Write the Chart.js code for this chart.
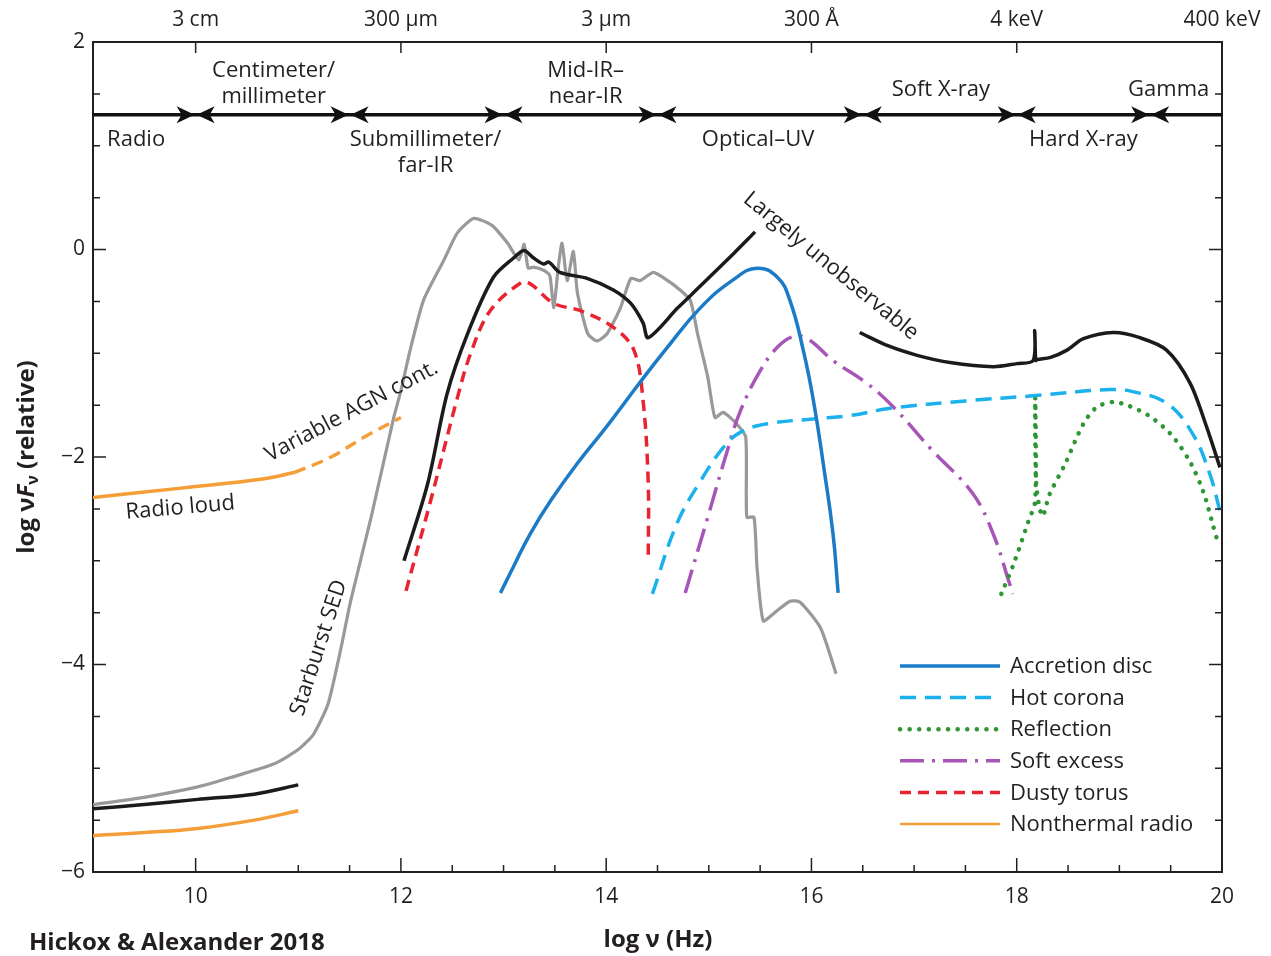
<!DOCTYPE html>
<html lang="en">
<head>
<meta charset="UTF-8">
<title>AGN SED components</title>
<script src="https://cdn.jsdelivr.net/npm/chart.js"></script>
<style>
  body { margin: 0; background: #fff; }
  #wrap { width: 1271px; height: 956px; }
</style>
</head>
<body>
<div id="wrap"><canvas id="sed" width="1271" height="956"></canvas></div>
<script>
// axis ticks
const xTicks = [10, 12, 14, 16, 18, 20];
const yTicks = [-6, -4, -2, 0, 2];
const topTickLabels = ['3 cm', '300 µm', '3 µm', '300 Å', '4 keV', '400 keV'];

// wavelength bands along the arrow line
const bandEdges = [9, 10, 11.5, 13, 14.5, 16.5, 18, 19.3, 20];
const bandNames = [['Radio'], ['Centimeter/', 'millimeter'], ['Submillimeter/', 'far-IR'], ['Mid-IR–', 'near-IR'],
                   ['Optical–UV'], ['Soft X-ray'], ['Hard X-ray'], ['Gamma']];

// starburst SED (grey)
const starburstX = [9.0, 9.5, 10.02, 10.34, 10.76, 11.0, 11.15, 11.29, 11.41, 11.51, 11.71, 11.93, 12.0, 12.09, 12.22, 12.42,
  12.55, 12.71, 12.89, 13.04, 13.15, 13.2, 13.24, 13.29, 13.39, 13.45, 13.49, 13.53, 13.57, 13.62, 13.68, 13.72, 13.82,
  13.91, 14.01, 14.14, 14.24, 14.33, 14.46, 14.6, 14.72, 14.82, 14.89, 14.99, 15.06, 15.14, 15.27, 15.36, 15.37, 15.44,
  15.47, 15.53, 15.63, 15.79, 15.89, 16.09, 16.24];
const starburstY = [-5.35, -5.28, -5.18, -5.09, -4.96, -4.82, -4.67, -4.38, -3.87, -3.39, -2.58, -1.62, -1.36, -0.97, -0.49, -0.10,
  0.16, 0.30, 0.23, 0.06, -0.10, 0.05, -0.18, -0.17, -0.20, -0.25, -0.56, -0.20, 0.06, -0.30, -0.02, -0.42, -0.81,
  -0.88, -0.81, -0.56, -0.28, -0.30, -0.22, -0.30, -0.39, -0.49, -0.81, -1.23, -1.62, -1.57, -1.68, -1.81, -2.58, -2.58,
  -3.07, -3.58, -3.51, -3.39, -3.40, -3.65, -4.09];

// total AGN SED (black), three pieces
const totalRadioX = [9.0, 9.5, 10.02, 10.57, 11.0];
const totalRadioY = [-5.39, -5.35, -5.30, -5.25, -5.16];
const totalIrX = [12.03, 12.26, 12.45, 12.65, 12.9, 13.1, 13.2, 13.29, 13.39, 13.44, 13.55, 13.82, 14.07, 14.24, 14.36, 14.41,
  14.7, 14.92, 15.24, 15.45];
const totalIrY = [-3.0, -2.26, -1.39, -0.81, -0.27, -0.08, -0.01, -0.08, -0.14, -0.12, -0.22, -0.28, -0.39, -0.52, -0.71, -0.85,
  -0.56, -0.35, -0.04, 0.17];
const totalXrayX = [16.47, 16.75, 17.03, 17.35, 17.77, 18.0, 18.16, 18.175, 18.185, 18.2, 18.33, 18.49, 18.65, 18.94, 19.2,
  19.46, 19.69, 19.85, 19.98];
const totalXrayY = [-0.80, -0.93, -1.02, -1.09, -1.13, -1.10, -1.07, -0.78, -1.07, -1.06, -1.04, -0.97, -0.86, -0.80, -0.85,
  -0.97, -1.29, -1.71, -2.10];

// components
const discX = [12.97, 13.1, 13.26, 13.46, 13.72, 14.01, 14.33, 14.59, 14.92, 15.24, 15.47, 15.67, 15.79, 15.92, 16.02, 16.12, 16.21, 16.26];
const discY = [-3.31, -3.05, -2.74, -2.42, -2.06, -1.70, -1.28, -0.95, -0.56, -0.29, -0.18, -0.27, -0.49, -0.97, -1.46, -2.10, -2.74, -3.31];

const coronaX = [14.45, 14.69, 14.92, 15.14, 15.31, 15.57, 16.06, 16.38, 16.77, 17.5, 18.16, 18.91, 19.13, 19.46, 19.71, 19.88, 19.98];
const coronaY = [-3.32, -2.64, -2.23, -1.91, -1.76, -1.68, -1.63, -1.60, -1.53, -1.46, -1.41, -1.35, -1.37, -1.48, -1.77, -2.16, -2.52];

const reflX = [17.85, 17.97, 18.11, 18.18, 18.18, 18.19, 18.25, 18.32, 18.47, 18.65, 18.78, 18.94, 19.10, 19.30, 19.51, 19.69, 19.82, 19.91, 19.97];
const reflY = [-3.32, -3.03, -2.63, -2.42, -1.38, -2.26, -2.57, -2.36, -2.07, -1.68, -1.52, -1.47, -1.51, -1.61, -1.79, -2.05, -2.34, -2.65, -2.86];

const softX = [14.77, 14.99, 15.18, 15.31, 15.50, 15.67, 15.82, 15.96, 16.21, 16.54, 16.80, 17.18, 17.57, 17.77, 17.93, 17.96];
const softY = [-3.31, -2.58, -1.94, -1.55, -1.17, -0.94, -0.84, -0.86, -1.07, -1.29, -1.52, -1.94, -2.35, -2.74, -3.22, -3.32];

const torusX = [12.05, 12.29, 12.55, 12.68, 12.87, 13.17, 13.26, 13.49, 13.75, 14.07, 14.27, 14.36, 14.41, 14.41];
const torusY = [-3.29, -2.42, -1.43, -1.0, -0.59, -0.32, -0.33, -0.52, -0.59, -0.75, -0.97, -1.46, -2.26, -2.95];

const radioQuietX = [9.0, 9.5, 10.02, 10.57, 11.0];
const radioQuietY = [-5.65, -5.62, -5.58, -5.50, -5.41];
const radioLoudX = [9.0, 9.86, 10.67, 10.96];
const radioLoudY = [-2.39, -2.30, -2.21, -2.15];
const variableX = [10.96, 11.32, 11.64, 12.0];
const variableY = [-2.15, -2.0, -1.81, -1.62];

const legendOrder = ['Accretion disc', 'Hot corona', 'Reflection', 'Soft excess', 'Dusty torus', 'Nonthermal radio'];

function pts(xs, ys) {
  return xs.map((x, i) => ({ x: x, y: ys[i] }));
}
const gap = [{ x: null, y: null }];

const ink = '#231f20';
const font = "'Open Sans', 'Noto Sans', sans-serif";

// decorations: inward ticks, band arrows, labels, legend, titles
const overlay = {
  id: 'overlay',
  afterDraw(chart) {
    const { ctx, chartArea: a, scales: { x, y } } = chart;
    ctx.save();
    ctx.strokeStyle = ink;
    ctx.fillStyle = ink;

    // tick marks pointing into the plot
    ctx.lineWidth = 1.5;
    ctx.beginPath();
    for (let v = 9.5; v < 20; v += 0.5) {
      const px = x.getPixelForValue(v);
      const len = xTicks.includes(v) ? 14 : 7;
      ctx.moveTo(px, a.bottom);
      ctx.lineTo(px, a.bottom - len);
    }
    xTicks.forEach(v => {
      const px = x.getPixelForValue(v);
      ctx.moveTo(px, a.top);
      ctx.lineTo(px, a.top + 11);
    });
    for (let v = -5.5; v < 2; v += 0.5) {
      const py = y.getPixelForValue(v);
      const len = yTicks.includes(v) ? 13 : 7;
      ctx.moveTo(a.left, py);
      ctx.lineTo(a.left + len, py);
      ctx.moveTo(a.right, py);
      ctx.lineTo(a.right - len, py);
    }
    ctx.stroke();

    // band arrows
    const ay = y.getPixelForValue(1.3);
    ctx.lineWidth = 3.5;
    ctx.strokeStyle = '#111';
    ctx.fillStyle = '#111';
    ctx.beginPath();
    ctx.moveTo(a.left, ay);
    ctx.lineTo(a.right, ay);
    ctx.stroke();
    const head = (tipX, dir) => {
      ctx.beginPath();
      ctx.moveTo(tipX, ay);
      ctx.lineTo(tipX - dir * 18, ay - 8.5);
      ctx.lineTo(tipX - dir * 13, ay);
      ctx.lineTo(tipX - dir * 18, ay + 8.5);
      ctx.closePath();
      ctx.fill();
    };
    bandEdges.slice(1, -1).forEach(e => {
      const px = x.getPixelForValue(e);
      head(px - 1, 1);
      head(px + 1, -1);
    });

    // band names
    ctx.fillStyle = ink;
    ctx.font = '22px ' + font;
    ctx.textBaseline = 'middle';
    ctx.textAlign = 'center';
    const bandSpots = [
      [9.42, 'below'], [10.76, 'above'], [12.24, 'below'], [13.80, 'above'],
      [15.48, 'below'], [17.26, 'above'], [18.65, 'below'], [19.48, 'above']
    ];
    bandNames.forEach((lines, i) => {
      const [cx, side] = bandSpots[i];
      const px = x.getPixelForValue(cx);
      let py;
      if (side === 'below') py = ay + 25;
      else py = lines.length === 2 ? ay - 44 : ay - 25;
      lines.forEach((t, k) => ctx.fillText(t, px, py + k * 26));
    });

    // rotated curve notes
    const note = (t, vx, vy, deg) => {
      ctx.save();
      ctx.translate(x.getPixelForValue(vx), y.getPixelForValue(vy));
      ctx.rotate(deg * Math.PI / 180);
      ctx.fillText(t, 0, 0);
      ctx.restore();
    };
    ctx.font = '22px ' + font;
    note('Variable AGN cont.', 11.52, -1.56, -28);
    note('Radio loud', 9.85, -2.49, -5);
    note('Starburst SED', 11.2, -3.84, -72);
    note('Largely unobservable', 16.19, -0.16, 39.5);

    // legend
    ctx.textAlign = 'left';
    legendOrder.forEach((name, i) => {
      const ds = chart.data.datasets.find(d => d.label === name);
      const ly = 666 + i * 31.6;
      ctx.save();
      ctx.strokeStyle = ds.borderColor;
      ctx.lineWidth = name === 'Nonthermal radio' ? 2.5 : ds.borderWidth;
      ctx.setLineDash(ds.borderDash || []);
      ctx.lineCap = ds.borderCapStyle || 'butt';
      ctx.beginPath();
      ctx.moveTo(900, ly);
      ctx.lineTo(1000, ly);
      ctx.stroke();
      ctx.restore();
      ctx.fillText(name, 1010, ly + 1);
    });

    // x title and credit
    ctx.font = 'bold 24px ' + font;
    ctx.textAlign = 'center';
    ctx.fillText('log ν (Hz)', 658, 940);
    ctx.textAlign = 'left';
    ctx.font = 'bold 24px ' + font;
    ctx.fillText('Hickox & Alexander 2018', 29, 943);

    // y title with italic F and subscript nu
    ctx.save();
    ctx.translate(27, 457);
    ctx.rotate(-Math.PI / 2);
    const parts = [
      ['bold 24px ' + font, 'log ν', 0],
      ['italic bold 24px ' + font, 'F', 0],
      ['bold 16px ' + font, 'ν', 6],
      ['bold 24px ' + font, ' (relative)', 0]
    ];
    let total = 0;
    parts.forEach(p => { ctx.font = p[0]; total += ctx.measureText(p[1]).width; });
    let cx = -total / 2;
    parts.forEach(p => {
      ctx.font = p[0];
      ctx.fillText(p[1], cx, p[2]);
      cx += ctx.measureText(p[1]).width;
    });
    ctx.restore();

    ctx.restore();
  }
};

const axisFont = { family: font, size: 21 };

new Chart(document.getElementById('sed'), {
  type: 'line',
  data: {
    datasets: [
      { label: 'Total', data: [...pts(totalRadioX, totalRadioY), ...gap, ...pts(totalIrX, totalIrY), ...gap, ...pts(totalXrayX, totalXrayY)],
        borderColor: '#1b1b1b', borderWidth: 3.5, tension: 0.3 },
      { label: 'Accretion disc', data: pts(discX, discY), borderColor: '#1b7bc7', borderWidth: 3.5, tension: 0.45 },
      { label: 'Hot corona', data: pts(coronaX, coronaY), borderColor: '#1ab1ec', borderWidth: 3.5, borderDash: [16, 9], tension: 0.4 },
      { label: 'Reflection', data: pts(reflX, reflY), borderColor: '#2e9632', borderWidth: 4.5, borderDash: [0.1, 9.5],
        borderCapStyle: 'round', tension: 0.3 },
      { label: 'Soft excess', data: pts(softX, softY), borderColor: '#a855b8', borderWidth: 3.5, borderDash: [24, 8, 3, 8], tension: 0.4 },
      { label: 'Dusty torus', data: pts(torusX, torusY), borderColor: '#ea2330', borderWidth: 3.5, borderDash: [11, 7], tension: 0.35 },
      { label: 'Nonthermal radio', data: [...pts(radioQuietX, radioQuietY), ...gap, ...pts(radioLoudX, radioLoudY)],
        borderColor: '#f59d37', borderWidth: 3.5, tension: 0.4 },
      { label: 'Variable', data: pts(variableX, variableY), borderColor: '#f59d37', borderWidth: 3.5, borderDash: [12, 7], tension: 0.4 },
      { label: 'Starburst SED', data: pts(starburstX, starburstY), borderColor: '#999999', borderWidth: 3.2, tension: 0.2 }
    ]
  },
  options: {
    responsive: false,
    animation: false,
    devicePixelRatio: 1,
    spanGaps: false,
    layout: { padding: 0 },
    elements: { point: { radius: 0 } },
    plugins: { legend: { display: false }, tooltip: { enabled: false } },
    scales: {
      x: {
        type: 'linear', position: 'bottom', min: 9, max: 20,
        afterBuildTicks: s => { s.ticks = xTicks.map(v => ({ value: v })); },
        afterFit: s => { s.height = 84; },
        ticks: { font: axisFont, color: ink, padding: 12, maxRotation: 0 },
        grid: { display: false, drawTicks: false },
        border: { color: ink, width: 2 }
      },
      x2: {
        type: 'linear', position: 'top', min: 9, max: 20,
        afterBuildTicks: s => { s.ticks = xTicks.map(v => ({ value: v })); },
        afterFit: s => { s.height = 42; },
        ticks: { font: axisFont, color: ink, padding: 9, maxRotation: 0,
                 callback: v => topTickLabels[xTicks.indexOf(v)] },
        grid: { display: false, drawTicks: false },
        border: { color: ink, width: 2 }
      },
      y: {
        type: 'linear', position: 'left', min: -6, max: 2,
        afterBuildTicks: s => { s.ticks = yTicks.map(v => ({ value: v })); },
        afterFit: s => { s.width = 93; },
        ticks: { font: axisFont, color: ink, padding: 8, callback: v => String(v).replace('-', '−') },
        grid: { display: false, drawTicks: false },
        border: { color: ink, width: 2 }
      },
      y2: {
        type: 'linear', position: 'right', min: -6, max: 2,
        afterFit: s => { s.width = 49; },
        ticks: { display: false },
        grid: { display: false, drawTicks: false },
        border: { color: ink, width: 2 }
      }
    }
  },
  plugins: [overlay]
});
</script>
</body>
</html>
